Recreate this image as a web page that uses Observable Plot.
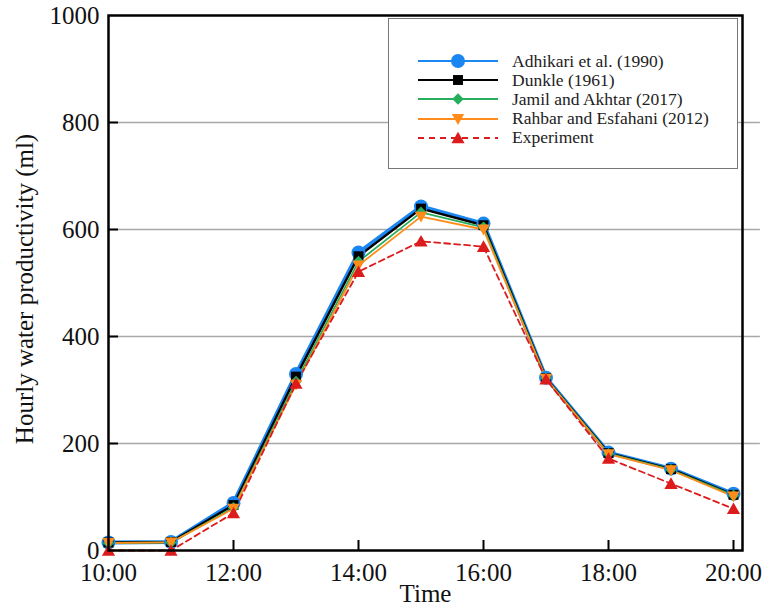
<!DOCTYPE html>
<html>
<head>
<meta charset="utf-8">
<script src="https://cdn.jsdelivr.net/npm/d3@7"></script>
<script src="https://cdn.jsdelivr.net/npm/@observablehq/plot@0.6"></script>
<style>
  body { margin: 0; background: #fff; }
  #wrap { position: relative; width: 770px; height: 610px; }
  #legend {
    position: absolute; left: 388px; top: 18px; width: 350px; height: 151px;
    box-sizing: border-box; border: 1px solid #777; background: #fff;
    font-family: "Liberation Serif", "Times New Roman", serif; font-size: 17.5px; color: #222;
  }
  #legend .row { position: absolute; left: 0; height: 20px; display: flex; align-items: center; }
  #legend .row svg { display: block; }
  #legend .row span { margin-left: 13px; white-space: nowrap; }
</style>
</head>
<body>
<div id="wrap"></div>
<script>
// Hours of the day (x) and hourly water productivity (ml) for each model and the measurement
const hours = [10, 11, 12, 13, 14, 15, 16, 17, 18, 19, 20];
const adhikari   = [15, 16, 89, 330, 557, 643, 611, 323, 183, 153, 106];
const dunkle     = [15, 16, 85, 325, 550, 639, 608, 322, 182, 152, 104];
const jamil      = [14, 15, 80, 316, 540, 632, 604, 322, 181, 151, 103];
const rahbar     = [14, 15, 78, 310, 533, 624, 600, 321, 180, 150, 101];
const experiment = [0, 0, 70, 312, 521, 578, 568, 320, 172, 125, 78];

const seriesNames = ["Adhikari et al. (1990)", "Dunkle (1961)", "Jamil and Akhtar (2017)", "Rahbar and Esfahani (2012)", "Experiment"];

const xTickValues = [10, 12, 14, 16, 18, 20];
const xTickLabels = ["10:00", "12:00", "14:00", "16:00", "18:00", "20:00"];
const yTickValues = [0, 200, 400, 600, 800, 1000];
const yTickLabels = ["0", "200", "400", "600", "800", "1000"];

// Filled triangles (pointing down / up), sized from the symbol area
const triangleDown = {
  draw(ctx, size) {
    const r = Math.sqrt(size / Math.PI);
    ctx.moveTo(-r, -0.8 * r); ctx.lineTo(r, -0.8 * r); ctx.lineTo(0, 0.95 * r); ctx.closePath();
  }
};
const triangleUp = {
  draw(ctx, size) {
    const r = Math.sqrt(size / Math.PI);
    ctx.moveTo(0, -0.95 * r); ctx.lineTo(r, 0.8 * r); ctx.lineTo(-r, 0.8 * r); ctx.closePath();
  }
};

const series = [
  {name: seriesNames[0], values: adhikari,   color: "#1a86f2", width: 4,   dash: null,  symbol: "circle",  r: 7},
  {name: seriesNames[1], values: dunkle,     color: "#000000", width: 2.4, dash: null,  symbol: "square",  r: 5.6},
  {name: seriesNames[2], values: jamil,      color: "#27ae5c", width: 1.8, dash: null,  symbol: "diamond2", r: 5.2},
  {name: seriesNames[3], values: rahbar,     color: "#ff8c1a", width: 1.8, dash: null,  symbol: triangleDown, r: 6.2},
  {name: seriesNames[4], values: experiment, color: "#dc1c1c", width: 1.8, dash: "6,4", symbol: triangleUp, r: 6.6}
];

const rows = s => hours.map((h, i) => ({hour: h, value: s.values[i]}));

const plotH = 535;            // pixel height of the plotting frame
const plotWPerHour = 62.5;    // pixels per hour along x
const tickLenY = 10 / plotH * 1000;
const tickLenX = 10 / plotWPerHour;

const lineMarks = series.map(s =>
  Plot.line(rows(s), {x: "hour", y: "value", stroke: s.color, strokeWidth: s.width, strokeDasharray: s.dash})
);
const dotMarks = series.map(s =>
  Plot.dot(rows(s), {x: "hour", y: "value", symbol: () => s.symbol, r: s.r, fill: s.color, stroke: "none"})
);

const chart = Plot.plot({
  width: 770,
  height: 610,
  marginLeft: 108,
  marginRight: 28,
  marginTop: 15,
  marginBottom: 60,
  x: {domain: [10, 20.144]},
  y: {domain: [0, 1000]},
  symbol: {type: "identity"},
  style: {
    fontFamily: "'Liberation Serif', 'Times New Roman', serif",
    fontSize: "25px",
    color: "#111",
    background: "#fff",
    overflow: "visible"
  },
  marks: [
    // horizontal grid
    Plot.ruleY(yTickValues.slice(1, -1), {x1: 10, x2: 20.43, stroke: "#a8a8a8", strokeWidth: 1.5}),
    // axes: labels only, inward ticks drawn below
    Plot.axisX(xTickValues, {tickSize: 0, tickPadding: 13, tickFormat: (d, i) => xTickLabels[i], label: null, fontSize: 25}),
    Plot.axisY(yTickValues, {tickSize: 0, tickPadding: 9, tickFormat: (d, i) => yTickLabels[i], label: null, fontSize: 25}),
    Plot.ruleX(xTickValues.slice(1), {y1: 0, y2: tickLenY, stroke: "#000", strokeWidth: 2}),
    Plot.ruleY(yTickValues.slice(1, -1), {x1: 10, x2: 10 + tickLenX, stroke: "#000", strokeWidth: 2}),
    ...lineMarks,
    ...dotMarks,
    Plot.frame({stroke: "#000", strokeWidth: 2.5}),
    // axis titles
    Plot.text(["Time"], {frameAnchor: "bottom", dy: 51, fontSize: 25, fill: "#111"}),
    Plot.text(["Hourly water productivity (ml)"], {frameAnchor: "left", textAnchor: "middle", dx: -84, dy: 6, rotate: -90, fontSize: 25, fill: "#111"})
  ]
});

const wrap = document.getElementById("wrap");
wrap.appendChild(chart);

// Legend box with line + marker swatches
const legend = document.createElement("div");
legend.id = "legend";
series.forEach((s, i) => {
  const row = document.createElement("div");
  row.className = "row";
  row.style.top = (32 + i * 19.2) + "px";
  row.style.left = "28px";
  const sw = d3.create("svg").attr("width", 82).attr("height", 20);
  sw.append("line").attr("x1", 1).attr("x2", 81).attr("y1", 10).attr("y2", 10)
    .attr("stroke", s.color).attr("stroke-width", Math.min(s.width, 2.2))
    .attr("stroke-dasharray", s.dash ? "6,5" : null);
  const symType = typeof s.symbol === "string"
    ? {circle: d3.symbolCircle, square: d3.symbolSquare, diamond2: d3.symbolDiamond2}[s.symbol]
    : s.symbol;
  sw.append("path").attr("transform", "translate(41,10)")
    .attr("d", d3.symbol(symType, Math.PI * s.r * s.r)()).attr("fill", s.color);
  row.appendChild(sw.node());
  const label = document.createElement("span");
  label.textContent = s.name;
  row.appendChild(label);
  legend.appendChild(row);
});
wrap.appendChild(legend);
</script>
</body>
</html>
